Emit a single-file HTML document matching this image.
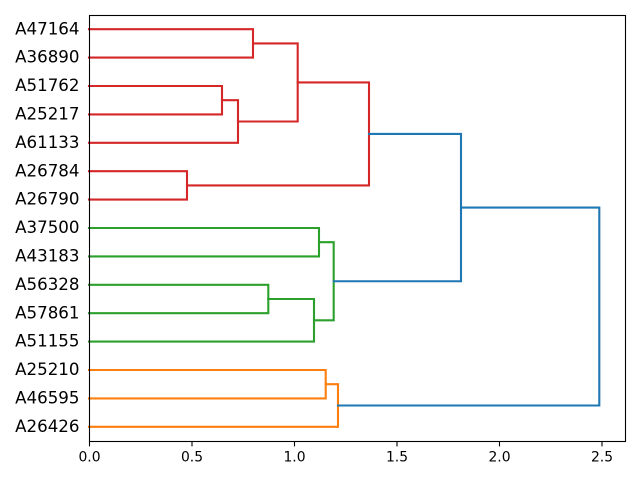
<!DOCTYPE html>
<html>
<head>
<meta charset="utf-8">
<style>
  html, body { margin: 0; padding: 0; background: #ffffff; }
  svg { display: block; }
  text { font-family: "DejaVu Sans", "Liberation Sans", sans-serif; fill: #000; }
</style>
</head>
<body>
<svg width="640" height="480" viewBox="0 0 640 480" xmlns="http://www.w3.org/2000/svg">
  <rect x="0" y="0" width="640" height="480" fill="#ffffff"/>
  <g fill="none" stroke-width="2.1" stroke-linejoin="miter" stroke-linecap="square">
    <!-- red cluster -->
    <g stroke="#d62728">
      <path d="M89 29.2 H253 V57.6 H89"/>
      <path d="M89 86 H222 V114.4 H89"/>
      <path d="M222 100.2 H238 V142.8 H89"/>
      <path d="M253 43.4 H297.7 V121.5 H238"/>
      <path d="M89 171.2 H187 V199.6 H89"/>
      <path d="M297.7 82.45 H369 V185.4 H187"/>
    </g>
    <!-- green cluster -->
    <g stroke="#2ca02c">
      <path d="M89 228 H319 V256.4 H89"/>
      <path d="M89 284.8 H268.3 V313.2 H89"/>
      <path d="M268.3 299 H314 V341.6 H89"/>
      <path d="M319 242.2 H333.7 V320.3 H314"/>
    </g>
    <!-- orange cluster -->
    <g stroke="#ff7f0e">
      <path d="M89 370 H325.7 V398.4 H89"/>
      <path d="M325.7 384.2 H338 V426.8 H89"/>
    </g>
    <!-- blue links -->
    <g stroke="#1f77b4">
      <path d="M369 133.9 H461 V281.25 H333.7"/>
      <path d="M461 207.6 H599.3 V405.5 H338"/>
    </g>
  </g>
  <!-- axes spines -->
  <rect x="89.5" y="15.5" width="536" height="426" fill="none" stroke="#000" stroke-width="1.1"/>
  <!-- x ticks -->
  <g stroke="#000" stroke-width="1.1">
    <line x1="89.5" y1="441.5" x2="89.5" y2="446.4"/>
    <line x1="192" y1="441.5" x2="192" y2="446.4"/>
    <line x1="294.5" y1="441.5" x2="294.5" y2="446.4"/>
    <line x1="397" y1="441.5" x2="397" y2="446.4"/>
    <line x1="499.5" y1="441.5" x2="499.5" y2="446.4"/>
    <line x1="602" y1="441.5" x2="602" y2="446.4"/>
  </g>
  <g font-size="13.9" text-anchor="middle">
    <text x="89.5" y="461.5">0.0</text>
    <text x="192" y="461.5">0.5</text>
    <text x="294.5" y="461.5">1.0</text>
    <text x="397" y="461.5">1.5</text>
    <text x="499.5" y="461.5">2.0</text>
    <text x="602" y="461.5">2.5</text>
  </g>
  <!-- leaf labels -->
  <g font-size="16.67" text-anchor="end">
    <text x="79.5" y="34.3">A47164</text>
    <text x="79.5" y="62.7">A36890</text>
    <text x="79.5" y="91.1">A51762</text>
    <text x="79.5" y="119.5">A25217</text>
    <text x="79.5" y="147.9">A61133</text>
    <text x="79.5" y="176.3">A26784</text>
    <text x="79.5" y="204.7">A26790</text>
    <text x="79.5" y="233.1">A37500</text>
    <text x="79.5" y="261.5">A43183</text>
    <text x="79.5" y="289.9">A56328</text>
    <text x="79.5" y="318.3">A57861</text>
    <text x="79.5" y="346.7">A51155</text>
    <text x="79.5" y="375.1">A25210</text>
    <text x="79.5" y="403.5">A46595</text>
    <text x="79.5" y="431.9">A26426</text>
  </g>
</svg>
</body>
</html>
